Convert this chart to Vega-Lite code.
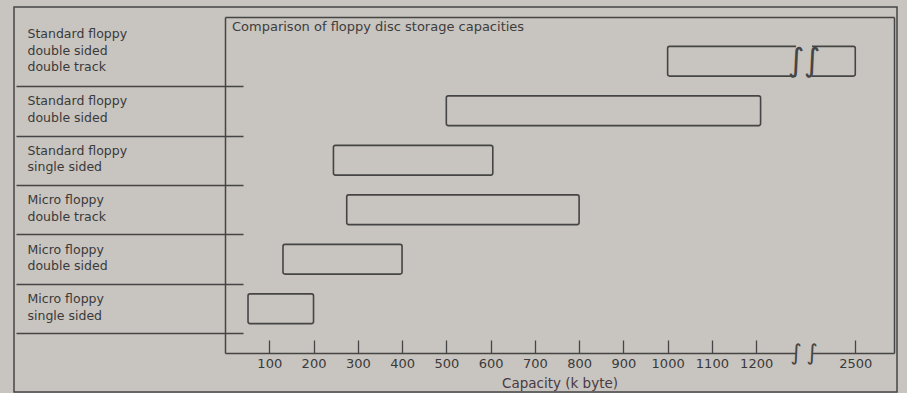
{
  "$schema": "https://vega.github.io/schema/vega-lite/v6.json",
  "width": 883,
  "height": 385,
  "autosize": "none",
  "padding": {"left": 14, "top": 7, "right": 10, "bottom": 1},
  "background": "#c8c4bf",
  "config": {
    "view": {"stroke": "#454545", "strokeWidth": 1.5},
    "font": "DejaVu Sans"
  },
  "title": {
    "text": "Comparison of floppy disc storage capacities",
    "anchor": "start",
    "frame": "group",
    "orient": "top",
    "offset": 0,
    "baseline": "top",
    "dx": 218,
    "dy": 33,
    "fontSize": 13,
    "fontWeight": "normal",
    "color": "#3d3d3d"
  },
  "resolve": {"axis": {"x": "independent", "y": "independent"}},
  "datasets": {
    "capacities": [
      {"disc": "Standard floppy|double sided|double track", "low": 1000, "high": 2500},
      {"disc": "Standard floppy|double sided", "low": 500, "high": 1210},
      {"disc": "Standard floppy|single sided", "low": 245, "high": 605},
      {"disc": "Micro floppy|double track", "low": 275, "high": 800},
      {"disc": "Micro floppy|double sided", "low": 131, "high": 400},
      {"disc": "Micro floppy|single sided", "low": 52, "high": 200}
    ],
    "breaks": [
      {"disc": "Standard floppy|double sided|double track", "start": 1290, "end": 2405}
    ],
    "squiggles": [
      {"disc": "Standard floppy|double sided|double track", "at": 1290},
      {"disc": "Standard floppy|double sided|double track", "at": 2405}
    ]
  },
  "layer": [
    {
      "data": {"name": "capacities"},
      "mark": {
        "type": "bar",
        "fill": "transparent",
        "stroke": "#454545",
        "strokeWidth": 1.6,
        "cornerRadius": 2,
        "height": {"band": 0.6}
      },
      "encoding": {
        "x": {
          "field": "low",
          "type": "quantitative",
          "scale": {
            "domain": [0, 1290, 2405, 2585],
            "range": [211, 782, 798, 880],
            "nice": false,
            "zero": false
          },
          "axis": {
            "title": "Capacity (k byte)",
            "orient": "bottom",
            "offset": -39,
            "values": [100, 200, 300, 400, 500, 600, 700, 800, 900, 1000, 1100, 1200, 2500],
            "format": "d",
            "grid": false,
            "domain": true,
            "domainColor": "#454545",
            "domainWidth": 1.5,
            "tickSize": -13,
            "tickColor": "#454545",
            "tickWidth": 1.3,
            "labelPadding": 17,
            "labelFontSize": 13,
            "labelColor": "#3a3a3a",
            "labelFlush": false,
            "labelOverlap": false,
            "titleFontSize": 13.5,
            "titleFontWeight": "normal",
            "titleColor": "#4a3a42",
            "titlePadding": 6
          }
        },
        "x2": {"field": "high"},
        "y": {
          "field": "disc",
          "type": "nominal",
          "sort": null,
          "scale": {
            "domain": [
              "Standard floppy|double sided|double track",
              "Standard floppy|double sided",
              "Standard floppy|single sided",
              "Micro floppy|double track",
              "Micro floppy|double sided",
              "Micro floppy|single sided"
            ],
            "range": [10, 346],
            "paddingInner": 0,
            "paddingOuter": 0.394
          },
          "axis": {
            "title": null,
            "orient": "left",
            "offset": -229,
            "domain": false,
            "grid": false,
            "ticks": true,
            "tickBand": "extent",
            "tickSize": 227,
            "tickColor": "#454545",
            "tickWidth": 1.3,
            "tickOpacity": {
              "condition": {"test": "datum.extra", "value": 0},
              "value": 1
            },
            "labelAlign": "left",
            "labelPadding": -11,
            "labelExpr": "split(datum.label, '|')",
            "labelBaseline": "middle",
            "labelLineHeight": 16.5,
            "labelFontSize": 12.5,
            "labelColor": "#3a3a3a",
            "labelLimit": 0,
            "labelOffset": {
              "condition": {"test": "datum.value === 'Standard floppy|double sided|double track'", "value": -27.5},
              "value": -10
            }
          }
        }
      }
    },
    {
      "data": {"name": "breaks"},
      "mark": {"type": "bar", "fill": "#c8c4bf", "stroke": null, "height": {"band": 0.75}},
      "encoding": {
        "x": {
          "field": "start",
          "type": "quantitative",
          "axis": {"orient": "top", "offset": -10, "domain": true, "domainColor": "#454545", "domainWidth": 1.5, "ticks": false, "labels": false, "title": null, "grid": false}
        },
        "x2": {"field": "end"},
        "y": {
          "field": "disc",
          "type": "nominal",
          "axis": {"orient": "left", "offset": -211, "domain": true, "domainColor": "#454545", "domainWidth": 1.5, "ticks": false, "labels": false, "title": null, "grid": false}
        }
      }
    },
    {
      "data": {"name": "breaks"},
      "mark": {"type": "rect", "fill": "#c8c4bf", "stroke": null, "y": {"expr": "range('y')[1] - 4"}, "y2": {"expr": "range('y')[1] + 4"}},
      "encoding": {
        "x": {"field": "start", "type": "quantitative", "axis": null},
        "x2": {"field": "end"}
      }
    },
    {
      "data": {"name": "squiggles"},
      "mark": {"type": "text", "text": "∫", "fontSize": 32, "color": "#454545", "baseline": "middle", "align": "center"},
      "encoding": {
        "x": {"field": "at", "type": "quantitative", "axis": null},
        "y": {
          "field": "disc",
          "type": "nominal",
          "axis": {"orient": "right", "offset": -3, "domain": true, "domainColor": "#454545", "domainWidth": 1.5, "ticks": false, "labels": false, "title": null, "grid": false}
        }
      }
    },
    {
      "data": {"name": "squiggles"},
      "mark": {"type": "text", "text": "∫", "fontSize": 22, "color": "#454545", "baseline": "middle", "align": "center", "y": {"expr": "range('y')[1]"}},
      "encoding": {
        "x": {"field": "at", "type": "quantitative", "axis": null}
      }
    }
  ]
}
